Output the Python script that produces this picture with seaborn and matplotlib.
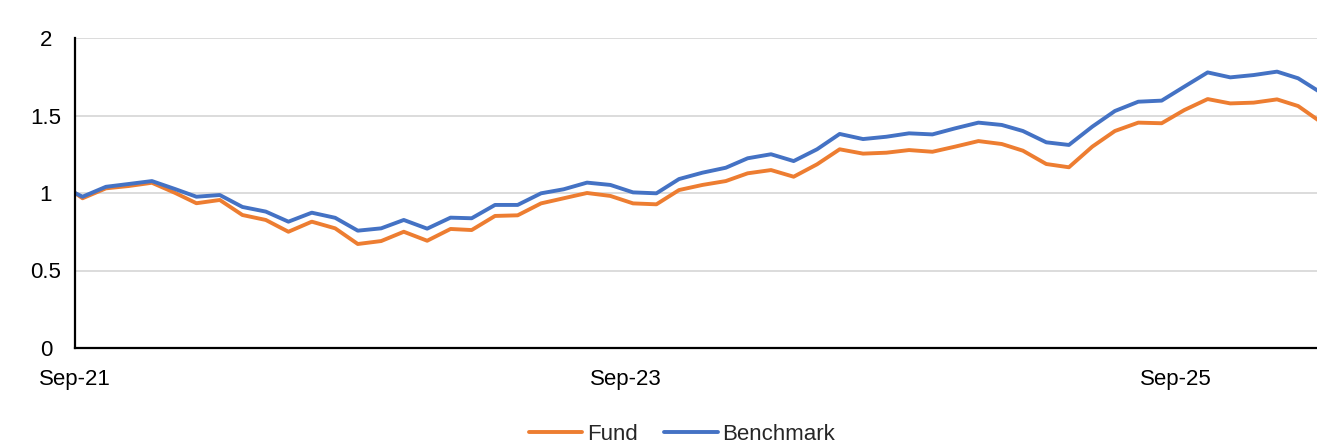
##################################################
#Imports
##################################################
import numpy as np
import pandas as pd
import seaborn as sns
import matplotlib.pyplot as plt
import matplotlib.dates as mdates
from matplotlib.ticker import FuncFormatter

#Data - inception point then month ends
inception = pd.Timestamp("2021-09-20")
month_ends = pd.date_range("2021-09-30", "2026-03-31", freq="ME")
dates = [inception] + list(month_ends)

fund = [1.0,
        0.966, 1.030, 1.045, 1.066,
        1.000, 0.934, 0.955, 0.858, 0.826, 0.750, 0.815, 0.772, 0.671, 0.690, 0.750, 0.692,
        0.768, 0.761, 0.852, 0.856, 0.933, 0.966, 1.000, 0.981, 0.933, 0.927, 1.019, 1.052,
        1.077, 1.127, 1.148, 1.105, 1.185, 1.282, 1.254, 1.260, 1.277, 1.266, 1.299, 1.335,
        1.316, 1.273, 1.187, 1.166, 1.299, 1.400, 1.454, 1.450, 1.535, 1.606, 1.578, 1.583,
        1.604, 1.561, 1.455]
benchmark = [1.0,
             0.976, 1.040, 1.058, 1.077,
             1.025, 0.976, 0.987, 0.910, 0.880, 0.815, 0.873, 0.840, 0.757, 0.772, 0.826, 0.770,
             0.841, 0.837, 0.923, 0.923, 0.998, 1.024, 1.067, 1.052, 1.004, 0.998, 1.090, 1.131,
             1.163, 1.224, 1.250, 1.206, 1.282, 1.381, 1.348, 1.363, 1.385, 1.378, 1.417, 1.454,
             1.439, 1.400, 1.327, 1.310, 1.428, 1.529, 1.589, 1.596, 1.686, 1.778, 1.746, 1.761,
             1.783, 1.740, 1.645]

tick_dates = [pd.Timestamp("2021-09-20"), pd.Timestamp("2023-09-20"), pd.Timestamp("2025-09-19")]
tick_labels = ["Sep-21", "Sep-23", "Sep-25"]
y_ticks = [0, 0.5, 1, 1.5, 2]

df = pd.DataFrame({"date": dates * 2,
                   "value": fund + benchmark,
                   "series": ["Fund"] * len(dates) + ["Benchmark"] * len(dates)})

#Setup
sns.set_theme(style="white")
plt.rcParams["font.family"] = ["Liberation Sans", "DejaVu Sans"]

fig = plt.figure(figsize=(13.17, 4.43), dpi=100)
ax = fig.add_axes([75 / 1317, 95 / 443, 1242 / 1317, 310 / 443])

pal = {"Fund": "#ED7D31", "Benchmark": "#4472C4"}
sns.lineplot(data=df, x="date", y="value", hue="series", palette=pal,
             linewidth=2.8, ax=ax, legend=False)

#Axes styling
ax.set_xlim(inception, inception + pd.Timedelta(days=1647))
ax.set_ylim(0, 2)
ax.set_yticks(y_ticks)
ax.yaxis.set_major_formatter(FuncFormatter(lambda v, p: f"{v:g}"))
ax.set_xticks(tick_dates)
ax.set_xticklabels(tick_labels)
ax.set_xlabel("")
ax.set_ylabel("")

ax.grid(axis="y", color="#d9d9d9", linewidth=1.3)
ax.grid(axis="x", visible=False)
ax.set_axisbelow(True)
for s in ["top", "right"]:
    ax.spines[s].set_visible(False)
for s in ["left", "bottom"]:
    ax.spines[s].set_color("black")
    ax.spines[s].set_linewidth(1.6)

ax.tick_params(axis="both", direction="out", length=6, width=1.6, color="black",
               labelsize=16, labelcolor="black")
ax.tick_params(axis="y", pad=15)
ax.tick_params(axis="x", pad=9)
for lab in ax.get_yticklabels():
    lab.set_horizontalalignment("center")

#Legend
handles = [plt.Line2D([], [], color=pal[k], linewidth=2.8) for k in ["Fund", "Benchmark"]]
fig.legend(handles, ["Fund", "Benchmark"], loc="center", ncol=2,
           bbox_to_anchor=(682 / 1317, 1 - 434 / 443), frameon=False,
           fontsize=16, handlelength=2.4, handletextpad=0.2, columnspacing=1.2)

plt.savefig("out.png", dpi=100)
